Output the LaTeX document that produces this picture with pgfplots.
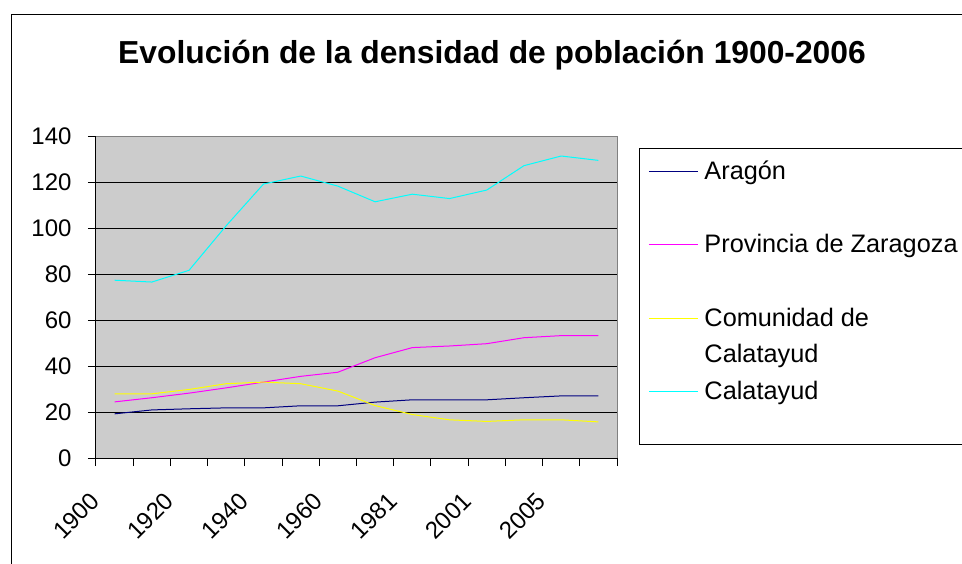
\documentclass[border=0pt]{standalone}
\usepackage{pgfplots}
\pgfplotsset{compat=1.18}
\usepackage{fontspec}
\setmainfont{Liberation Sans}
\definecolor{plotbg}{HTML}{CCCCCC}
\definecolor{sAragon}{HTML}{000080}
\definecolor{sZgz}{HTML}{FF00FF}
\definecolor{sCom}{HTML}{FFFF00}
\definecolor{sCal}{HTML}{00FFFF}
\newcommand{\lf}{\fontsize{25.3}{30}\selectfont}
\newcommand{\tf}{\fontsize{24}{29}\selectfont}
\begin{document}
\begin{tikzpicture}
\useasboundingbox (0pt,0pt) rectangle (962pt,563pt);
\draw[black, line width=1pt] (11pt,-20pt) rectangle (990pt,548pt);
\node[anchor=base, font=\bfseries\fontsize{31.8}{38}\selectfont] at (492pt,499.7pt) {Evolución de la densidad de población 1900-2006};
\begin{axis}[
  at={(96pt,105pt)}, anchor=south west,
  scale only axis, width=521pt, height=322pt,
  xmin=-0.5, xmax=13.5, ymin=0, ymax=140,
  axis background/.style={fill=plotbg},
  axis x line=bottom, axis y line=left,
  axis line style={-, black, line width=1pt},
  tick align=outside,
  major tick length=8pt,
  tick style={black, line width=1pt},
  ytick={0,20,...,140},
  ymajorgrids, grid style={black, line width=1pt},
  xtick={-0.5,0.5,...,13.5},
  xticklabels={1900,,1920,,1940,,1960,,1981,,2001,,2005,,},
  xticklabel style={xshift=-7pt, yshift=-20pt, rotate=45, anchor=north east, font=\tf},
  yticklabel style={font=\tf, xshift=-13pt},
  /pgf/number format/assume math mode=true,
  legend style={at={(rel axis cs:1.0422,0.9627)}, anchor=north west,
    draw=black, line width=1pt, fill=white, font=\lf,
    inner xsep=9pt, inner ysep=0pt, row sep=0pt, column sep=0pt,
    nodes={inner sep=0pt, anchor=base west, text height=31pt, text depth=42.3pt}},
  legend cell align=left,
  legend image code/.code={\draw[#1, line width=1pt] (0pt,0pt) -- (49pt,0pt);},
  legend image post style={yshift=8pt},
  extra description/.code={\draw[gray, line width=1pt] (rel axis cs:0,1) -- (rel axis cs:1,1) -- (rel axis cs:1,0);},
]
\addplot[sAragon, line width=1pt] coordinates {
(0,19.2)(1,20.9)(2,21.4)(3,21.8)(4,21.8)(5,22.7)(6,22.7)(7,24.3)(8,25.3)(9,25.3)(10,25.3)(11,26.2)(12,27.0)(13,27.0)};
\addlegendentry{\hspace{6pt}Aragón}
\addplot[sZgz, line width=1pt] coordinates {
(0,24.4)(1,26.2)(2,28.2)(3,30.5)(4,33.0)(5,35.5)(6,37.3)(7,43.6)(8,48.0)(9,48.7)(10,49.7)(11,52.3)(12,53.2)(13,53.2)};
\addlegendentry{\hspace{6pt}Provincia de Zaragoza\hspace*{20pt}}
\addplot[sCom, line width=1pt] coordinates {
(0,27.9)(1,27.9)(2,29.8)(3,32.3)(4,33.0)(5,32.3)(6,29.1)(7,22.8)(8,18.9)(9,16.6)(10,15.9)(11,16.6)(12,16.6)(13,15.7)};
\addlegendentry{\hspace{6pt}\smash{\begin{tabular}[t]{@{}l@{}}Comunidad de\\[6pt]Calatayud\end{tabular}}}
\addplot[sCal, line width=1pt] coordinates {
(0,77.3)(1,76.5)(2,81.6)(3,101.0)(4,119.1)(5,122.6)(6,118.2)(7,111.4)(8,114.7)(9,112.8)(10,116.5)(11,127.1)(12,131.3)(13,129.4)};
\addlegendentry[text depth=45pt]{\hspace{6pt}Calatayud}
\end{axis}
\end{tikzpicture}
\end{document}
